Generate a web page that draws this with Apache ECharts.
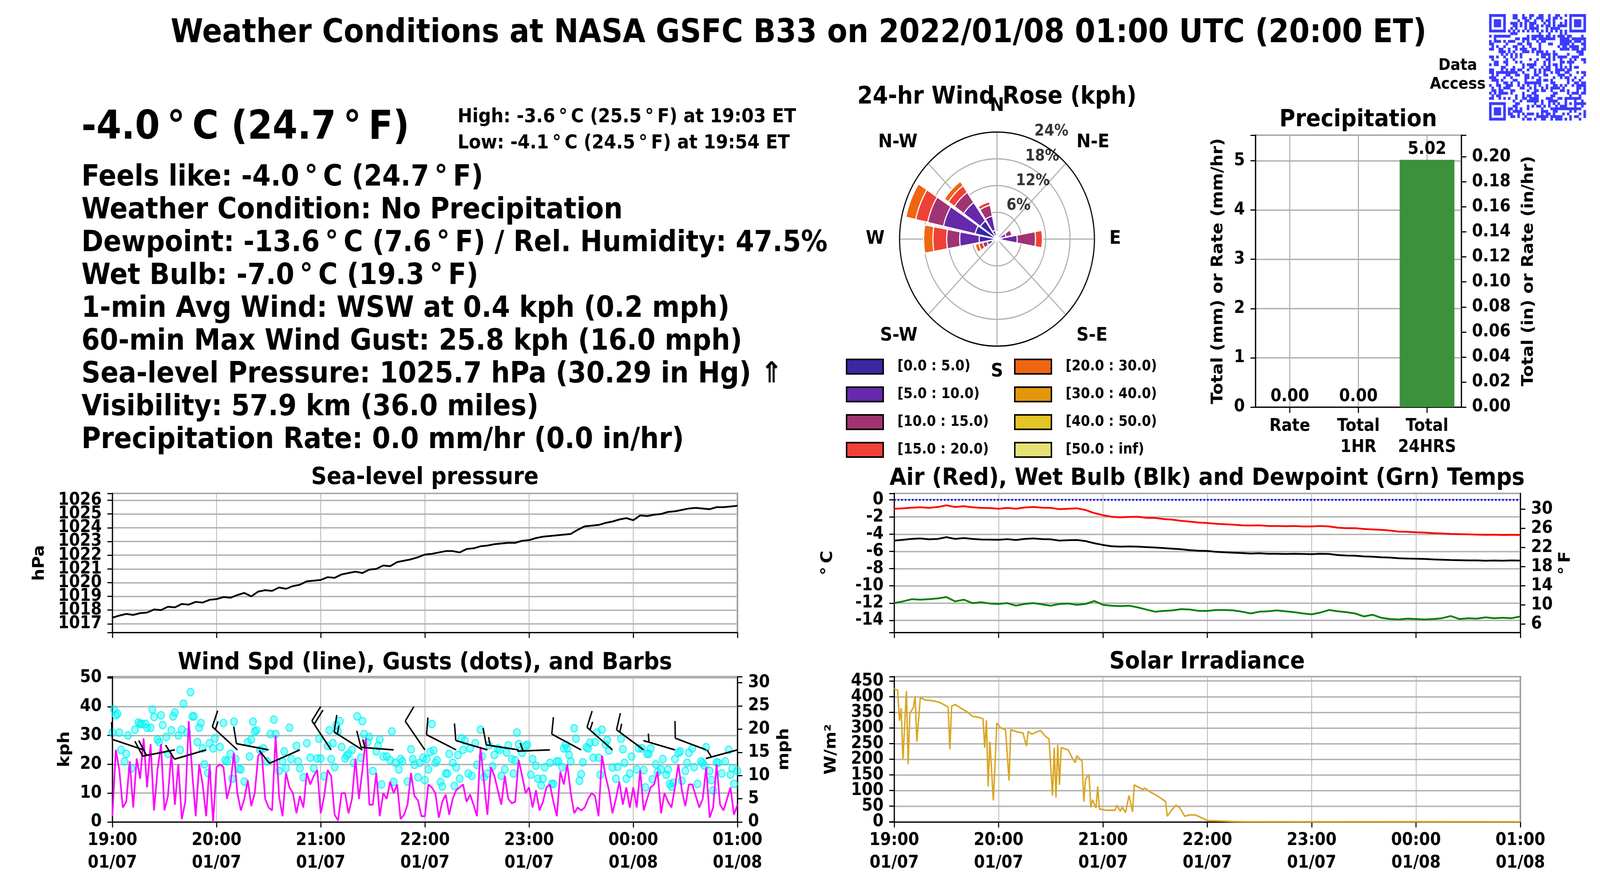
<!DOCTYPE html>
<html lang="en">
<head>
<meta charset="UTF-8"/>
<title>Weather Conditions at NASA GSFC B33</title>
<script src="https://cdn.jsdelivr.net/npm/echarts@6/dist/echarts.min.js"></script>
<style>
  html, body { margin: 0; padding: 0; background: #fff; overflow: hidden; }
  #wrap { position: relative; overflow: hidden; width: 4500px; height: 2250px; }
  #main { position: absolute; left: 0; top: 0; width: 4500px; height: 2250px; transform-origin: 0 0; }
</style>
</head>
<body>
<div id="wrap"><div id="main"></div></div>
<script type="text/javascript">
// ---- tick labels / categories ----
var hourTicks = ['19:00\n01/07', '20:00\n01/07', '21:00\n01/07', '22:00\n01/07', '23:00\n01/07', '00:00\n01/08', '01:00\n01/08'];
var compassLabels = ['N', 'N-E', 'E', 'S-E', 'S', 'S-W', 'W', 'N-W', ''];
var roseDirs = ['N', 'NNE', 'NE', 'ENE', 'E', 'ESE', 'SE', 'SSE', 'S', 'SSW', 'SW', 'WSW', 'W', 'WNW', 'NW', 'NNW'];
var roseBins = ['[0.0 : 5.0)', '[5.0 : 10.0)', '[10.0 : 15.0)', '[15.0 : 20.0)', '[20.0 : 30.0)', '[30.0 : 40.0)', '[40.0 : 50.0)', '[50.0 : inf)'];
var roseRings = [6, 12, 18, 24];
var precipCats = ['Rate', 'Total\n1HR', 'Total\n24HRS'];

// ---- text panel ----
var infoTemp = '-4.0\u2009°\u2009C (24.7\u2009°\u2009F)';
var infoHigh = 'High: -3.6\u2009°\u2009C (25.5\u2009°\u2009F) at 19:03 ET';
var infoLow = 'Low: -4.1\u2009°\u2009C (24.5\u2009°\u2009F) at 19:54 ET';
var infoLines = [
    'Feels like: -4.0\u2009°\u2009C (24.7\u2009°\u2009F)',
    'Weather Condition: No Precipitation',
    'Dewpoint: -13.6\u2009°\u2009C (7.6\u2009°\u2009F) / Rel. Humidity: 47.5%',
    'Wet Bulb: -7.0\u2009°\u2009C (19.3\u2009°\u2009F)',
    '1-min Avg Wind: WSW at 0.4 kph (0.2 mph)',
    '60-min Max Wind Gust: 25.8 kph (16.0 mph)',
    'Sea-level Pressure: 1025.7 hPa (30.29 in Hg) \u21D1',
    'Visibility: 57.9 km (36.0 miles)',
    'Precipitation Rate: 0.0 mm/hr (0.0 in/hr)'
];

// ---- sea-level pressure (hPa), every 4 min from 19:00 ----
var presStep = 4;
var pressure = [1017.45, 1017.6, 1017.72, 1017.65, 1017.78, 1017.82, 1018.05, 1018.0, 1018.25, 1018.2,
    1018.45, 1018.4, 1018.6, 1018.55, 1018.75, 1018.8, 1018.95, 1018.9, 1019.1, 1019.25,
    1019.0, 1019.35, 1019.45, 1019.4, 1019.65, 1019.55, 1019.75, 1019.85, 1020.1, 1020.15,
    1020.2, 1020.4, 1020.35, 1020.6, 1020.7, 1020.8, 1020.7, 1020.95, 1021.0, 1021.25,
    1021.2, 1021.5, 1021.6, 1021.7, 1021.85, 1022.05, 1022.1, 1022.2, 1022.3, 1022.3,
    1022.2, 1022.45, 1022.5, 1022.65, 1022.7, 1022.8, 1022.85, 1022.9, 1022.9, 1023.05,
    1023.1, 1023.25, 1023.35, 1023.4, 1023.45, 1023.5, 1023.55, 1023.85, 1024.1, 1024.15,
    1024.2, 1024.35, 1024.45, 1024.6, 1024.7, 1024.55, 1024.9, 1024.85, 1024.95, 1025.0,
    1025.15, 1025.2, 1025.3, 1025.4, 1025.45, 1025.4, 1025.35, 1025.5, 1025.5, 1025.55, 1025.6];

// ---- wind speed (kph), every 2 min ----
var windStep = 2;
var windSpd = [2, 25, 18, 5, 7, 21, 5, 22, 15, 29, 12, 27, 4, 18, 27, 4, 9, 24, 6, 20, 1, 7, 35, 17, 2, 20, 13, 2, 20, 0,
    19, 20, 19, 8, 13, 24, 10, 4, 8, 14.5, 5.5, 10, 23, 24, 8, 5, 4, 30, 9, 2, 17, 12, 10, 3, 9, 5, 17, 13, 16, 18,
    3, 9, 18, 16, 2.5, 0.5, 10, 10, 3, 8, 22, 8, 18, 29, 6, 6, 17, 2, 10, 8, 14, 10, 13, 1, 2.5, 6, 17, 9, 7.5, 2,
    2, 13, 12, 10, 1.5, 7, 9.5, 2.5, 8, 11, 12, 13, 7, 9.5, 6, 2, 26, 14, 2.5, 19, 16, 11, 6, 16, 8, 6.5, 7, 21.5, 16, 10,
    12, 5, 11, 4, 7, 12, 13, 7, 2, 17.5, 13, 20, 10, 3, 5, 4, 5, 8, 10, 9, 2, 23, 16, 11, 3, 8, 14, 6, 12, 5,
    12, 5, 18, 4, 8, 12, 13, 17.5, 3, 10, 7, 5, 12, 20, 11, 5.5, 13, 13, 9, 5, 8, 19, 1.5, 5, 20, 6, 4, 8, 12, 2.5, 6];

// ---- gusts (minute after 19:00, kph) ----
var gustMin = [0, 1, 2, 3, 4, 5, 7, 8, 9, 11, 13, 15, 16, 17, 19, 20, 22, 23, 24, 26, 27, 28, 29, 31, 32, 34, 35, 36, 38, 39,
    40, 41, 43, 45, 46, 47, 49, 50, 51, 52, 53, 55, 56, 58, 59,
    62, 64, 65, 66, 68, 69, 70, 71, 73, 74, 76, 78, 79, 80, 81, 82, 83, 85, 87, 89, 91, 93, 94, 96, 98, 99, 100,
    102, 103, 106, 107, 108, 110, 112, 114, 116, 118, 119, 120,
    122, 124, 125, 126, 127, 128, 129, 130, 131, 132, 134, 135, 136, 138, 139, 141, 143, 144, 145, 147, 148, 150,
    152, 153, 154, 155, 156, 158, 160, 161, 162, 163, 165, 166, 167, 170, 172, 173, 174, 176, 177, 179, 180,
    181, 182, 183, 184, 185, 186, 187, 189, 190, 192, 193, 194, 196, 197, 198, 199, 200, 201, 202, 203, 205, 206,
    207, 209, 210, 212, 213, 214, 216, 217, 219, 220, 222, 223, 224, 226, 227, 228, 230, 231, 232, 233, 234, 236, 238, 239,
    241, 242, 244, 245, 247, 248, 249, 252, 253, 254, 256, 257, 259, 260, 261, 262, 263, 264, 266, 267, 269, 270,
    271, 273, 274, 275, 277, 278, 279, 280, 281, 282, 284, 285, 286, 288, 290, 291, 293, 294, 295, 296, 298, 299,
    302, 303, 305, 306, 307, 308, 309, 310, 311, 313, 314, 316, 317, 319, 320, 321, 322, 323, 324, 326, 327, 328,
    330, 331, 332, 334, 335, 337, 339, 340, 341, 342, 344, 345, 346, 348, 349, 351, 353, 355, 356, 357, 358, 360];
var gustKph = [31, 39, 37, 37.5, 31, 25, 21, 23.6, 30, 18.6, 32, 34.5, 34, 34, 34, 32.7, 32.7, 39, 36.4, 28.6, 27.7, 37, 33.6, 29.5, 23.6, 31.8, 36.6, 38, 30, 25,
    32, 41, 31, 45, 36.6, 36.6, 27.7, 32.7, 34.3, 25.5, 20, 17, 27.3, 25.5, 29,
    26, 34.3, 21.4, 21, 23.6, 15, 34.8, 21.8, 18.4, 18.2, 14, 27.7, 22.7, 28.6, 34.8, 31.4, 31.8, 25, 25.5, 21, 30.5, 35.5, 30.5, 17.7, 21, 24.5, 18.6,
    32.7, 21.8, 26.4, 21, 18.6, 15.5, 27.3, 22.3, 18.6, 22, 28.9, 22,
    15.9, 26.4, 31.8, 21.8, 27.3, 19, 33.6, 31.4, 35, 26, 22, 23, 23.6, 25, 20.5, 36.6, 22.3, 35, 30.5, 27.7, 29.5, 17.7,
    24.5, 26.4, 28.6, 13, 22.7, 22.7, 21.4, 31.4, 13.9, 20.5, 18.2, 21.8, 21, 14, 25.2, 21.8, 19.8, 15.5, 20.5, 22.3, 14.5,
    21.8, 18.2, 24.3, 34, 24.8, 20.5, 21.4, 13.9, 12.3, 16.8, 16.8, 23.6, 20.5, 12.5, 18.9, 23.2, 15, 29, 25, 28.2, 16.8, 25.5,
    16, 27.3, 19.8, 32, 22.7, 15.5, 16.8, 26.6, 19.3, 23.2, 25.5, 25, 16, 18.2, 24.1, 26.6, 21.8, 16.8, 21.4, 31, 27, 24, 26.4, 26.8,
    16.4, 21.8, 19.5, 15, 12.7, 15, 19, 20.5, 13.2, 13.2, 21, 21, 19, 25.5, 26.8, 25.5, 23.2, 21, 32.5, 28.9, 14.3, 16.6,
    20.7, 25.9, 25.5, 27.5, 22.3, 27.7, 31, 22.3, 16.4, 32, 26.8, 28.4, 24.8, 18.9, 15, 19.1, 28.9, 25.2, 20.5, 15, 16.8, 22.7,
    18.2, 25.5, 25.5, 18, 12, 23.6, 23.6, 25.5, 14.8, 20, 17.3, 18.2, 21.8, 16.4, 18.2, 13.2, 12.3, 13.6, 21.8, 24, 24.5, 14.3,
    17.7, 20.5, 24, 25.5, 19, 13.2, 21, 20.5, 19.5, 25.9, 17.7, 14.5, 10.9, 20.7, 20.5, 16.8, 21, 25, 16.4, 18.6, 13.2, 17.7];

// ---- wind barbs (minute, direction from [deg], speed [kph]) ----
var barbMin = [18, 36, 54, 72, 90, 108, 126, 144, 162, 180, 198, 216, 234, 252, 270, 288, 306, 324, 342, 360];
var barbDir = [287, 260, 255, 310, 280, 248, 324, 300, 274, 323, 295, 285, 278, 268, 296, 309, 304, 285, 289, 256];
var barbSpd = [10, 20, 10, 15, 10, 10, 20, 15, 15, 10, 10, 10, 15, 5, 10, 15, 15, 5, 10, 5];
var barbLevel = 25;

// ---- temperatures (deg C), every 5 min ----
var tempStep = 5;
var airTemp = [-1.05, -1.0, -0.92, -0.88, -0.95, -0.85, -0.65, -0.85, -0.75, -0.88, -0.95, -0.97, -1.05, -0.95, -1.05, -0.9, -0.85, -0.92, -0.95, -1.1,
    -1.05, -1.0, -1.2, -1.55, -1.8, -1.98, -2.05, -2.0, -1.98, -2.1, -2.12, -2.25, -2.32, -2.45, -2.55, -2.65, -2.7, -2.8, -2.85, -2.9,
    -2.98, -3.0, -2.98, -3.05, -3.05, -3.08, -3.05, -3.1, -3.1, -3.05, -3.1, -3.25, -3.3, -3.3, -3.4, -3.45, -3.5, -3.58, -3.7, -3.72,
    -3.78, -3.82, -3.88, -3.92, -3.97, -4.0, -4.02, -4.05, -4.08, -4.07, -4.1, -4.08, -4.1];
var wetBulb = [-4.75, -4.65, -4.55, -4.5, -4.6, -4.55, -4.35, -4.55, -4.45, -4.55, -4.62, -4.63, -4.65, -4.58, -4.68, -4.55, -4.5, -4.57, -4.6, -4.75,
    -4.7, -4.68, -4.8, -5.05, -5.25, -5.4, -5.45, -5.42, -5.45, -5.5, -5.55, -5.62, -5.68, -5.75, -5.85, -5.92, -5.95, -6.05, -6.1, -6.15,
    -6.2, -6.25, -6.22, -6.27, -6.28, -6.3, -6.28, -6.3, -6.32, -6.27, -6.3, -6.42, -6.48, -6.5, -6.58, -6.62, -6.68, -6.72, -6.8, -6.83,
    -6.85, -6.88, -6.93, -6.97, -7.0, -7.02, -7.04, -7.05, -7.08, -7.06, -7.08, -7.05, -7.07];
var dewPoint = [-12.0, -11.8, -11.55, -11.6, -11.55, -11.45, -11.3, -11.8, -11.6, -12.0, -11.9, -12.05, -12.1, -12.0, -12.3, -12.1, -12.0, -12.15, -12.3, -12.1,
    -12.05, -12.2, -12.1, -11.75, -12.2, -12.3, -12.35, -12.3, -12.5, -12.75, -13.0, -12.9, -12.85, -12.7, -12.75, -12.9, -12.9, -12.8, -12.8, -12.85,
    -13.0, -13.2, -13.0, -12.95, -12.85, -12.95, -13.05, -13.2, -13.3, -13.1, -12.8, -12.95, -13.05, -13.2, -13.55, -13.35, -13.7, -13.85, -13.9, -13.8,
    -13.85, -13.9, -13.85, -13.75, -13.5, -13.85, -13.75, -13.8, -13.65, -13.75, -13.7, -13.75, -13.55];

// ---- solar irradiance (minute after 19:00, W/m2) ----
var solarMin = [0, 2, 3, 4, 5, 7, 8, 9, 11, 12, 13, 15, 18, 22, 26, 30, 31, 32, 33, 35, 39, 42, 45, 48, 51, 52, 53, 54, 55, 57,
    59, 61, 64, 66, 67, 71, 74, 76, 77, 79, 84, 87, 89, 91, 92, 93, 94, 95, 96, 100, 102, 104, 105, 108, 109, 110, 112, 113, 114, 116,
    117, 118, 122, 127, 128, 130, 131, 133, 135, 137, 138, 143, 144, 147, 151, 156, 157, 160, 162, 164, 167, 170, 173, 176, 180, 186, 194, 200, 240, 300, 360];
var solarVal = [425, 420, 323, 363, 199, 418, 184, 346, 366, 401, 256, 397, 389, 387, 382, 370, 366, 232, 370, 375, 361, 351, 337, 335, 330, 237, 325, 113, 256, 68,
    316, 301, 294, 132, 294, 287, 284, 242, 289, 280, 292, 273, 265, 84, 237, 77, 246, 118, 237, 230, 208, 189, 211, 194, 65, 137, 151, 46, 70, 44,
    113, 41, 37, 37, 53, 34, 46, 30, 84, 32, 118, 103, 108, 96, 84, 65, 18, 41, 53, 46, 18, 22, 22, 15, 4, 3, 1, 0.5, 0, 0.5, 0];

// ---- wind rose frequency (%) per speed bin, by direction ----
var roseFreq = [
    [0.8, 0.3, 0.3, 0.8, 1.2, 0.5, 0.2, 0.2, 0.2, 0.3, 0.3, 1.2, 4.4, 5.5, 5.0, 2.0],
    [0.5, 0.2, 0.2, 1.5, 3.8, 0.5, 0, 0, 0, 0.2, 0.2, 1.3, 4.8, 8.0, 5.0, 3.3],
    [0.3, 0, 0, 1.5, 4.5, 0, 0, 0, 0, 0, 0, 1.1, 3.2, 4.0, 2.8, 2.5],
    [0, 0, 0, 0, 1.7, 0, 0, 0, 0, 0, 0, 1.0, 3.4, 3.0, 1.8, 0.8],
    [0, 0, 0, 0, 0, 0, 0, 0, 0, 0, 0, 0.9, 2.3, 2.5, 1.2, 0],
    [0, 0, 0, 0, 0, 0, 0, 0, 0, 0, 0, 0, 0, 0, 0, 0],
    [0, 0, 0, 0, 0, 0, 0, 0, 0, 0, 0, 0, 0, 0, 0, 0],
    [0, 0, 0, 0, 0, 0, 0, 0, 0, 0, 0, 0, 0, 0, 0, 0]
];
var roseColors = ['#3c26a3', '#6629a9', '#a03472', '#ef4137', '#f06511', '#e4960b', '#e4c427', '#e4e274'];

// ---- precipitation (mm) ----
var precipMm = [0.00, 0.00, 5.02];

var FONT = 'DejaVu Sans';

// the browser window may be narrower than 4500 px: stretch the 4500x2250 layout over it
var wrapEl = document.getElementById('wrap');
var mainEl = document.getElementById('main');
var vw = window.innerWidth || 4500, vh = window.innerHeight || 2250;
var sx = vw / 4500, sy = vh / 2250;
if (Math.abs(sx - 1) > 0.002 || Math.abs(sy - 1) > 0.002) {
    mainEl.style.transform = 'scale(' + sx + ',' + sy + ')';
    wrapEl.style.width = vw + 'px';
    wrapEl.style.height = vh + 'px';
}
var myChart = echarts.init(mainEl);

function timeAxis(gridIndex, showLabels) {
    return {
        type: 'value', gridIndex: gridIndex, min: 0, max: 360, interval: 60,
        axisLine: {show: true, onZero: false, lineStyle: {color: '#000', width: 3}},
        axisTick: {show: true, length: 14, lineStyle: {color: '#000', width: 3}},
        splitLine: {show: true, lineStyle: {color: '#b0b0b0', width: 2}},
        axisLabel: {
            show: showLabels, margin: 19, lineHeight: 58, fontSize: 44, fontWeight: 'bold', color: '#000', fontFamily: FONT,
            showMinLabel: true, showMaxLabel: true,
            formatter: function (v) { return hourTicks[Math.round(v / 60)]; }
        }
    };
}

function valueAxis(gridIndex, pos, o) {
    var ax = {
        type: 'value', gridIndex: gridIndex, position: pos, min: o.min, max: o.max,
        axisLine: {show: true, onZero: false, lineStyle: {color: '#000', width: 3}},
        axisTick: {show: true, length: 14, lineStyle: {color: '#000', width: 3}},
        splitLine: {show: pos === 'left', lineStyle: {color: '#b0b0b0', width: 3.5}},
        axisLabel: {margin: 30, fontSize: 44, lineHeight: 34, fontWeight: 'bold', color: '#000', fontFamily: FONT,
            showMinLabel: true, showMaxLabel: true, hideOverlap: false, formatter: o.fmt},
        name: o.name, nameLocation: 'middle', nameRotate: 90, nameGap: o.gap,
        nameTextStyle: {fontSize: 44, fontWeight: 'bold', color: '#000', fontFamily: FONT}
    };
    if (o.interval != null) ax.interval = o.interval;
    if (o.step != null) { ax.minInterval = o.step; ax.maxInterval = o.step; }
    if (o.custom) {
        ax.axisLabel.customValues = o.custom;
        ax.axisTick.customValues = o.custom;
    }
    return ax;
}

function onStep(step, digits) {
    return function (v) {
        var k = v / step;
        if (Math.abs(k - Math.round(k)) > 1e-6) return '';
        return digits ? v.toFixed(digits) : String(Math.round(v));
    };
}

function renderBarb(params, api) {
    var base = api.coord([api.value(0), api.value(1)]);
    var a = api.value(2) * Math.PI / 180;
    var spd = api.value(3);
    var L = 92, full = 44, gap = 11;
    var ux = Math.sin(a), uy = -Math.cos(a);
    var px = -uy, py = ux;
    var bx = 0.94 * px + 0.34 * ux, by = 0.94 * py + 0.34 * uy;
    var tip = [base[0] + L * ux, base[1] + L * uy];
    var kids = [{type: 'line', shape: {x1: base[0], y1: base[1], x2: tip[0], y2: tip[1]}, style: {stroke: '#000', lineWidth: 4}}];
    var nFull = Math.floor(spd / 10), half = (spd % 10) >= 5;
    var d = 0;
    for (var i = 0; i < nFull; i++) {
        var p0 = [tip[0] - d * ux, tip[1] - d * uy];
        kids.push({type: 'line', shape: {x1: p0[0], y1: p0[1], x2: p0[0] + full * bx, y2: p0[1] + full * by}, style: {stroke: '#000', lineWidth: 4}});
        d += gap;
    }
    if (half) {
        if (nFull === 0) d = gap * 1.5;
        var p1 = [tip[0] - d * ux, tip[1] - d * uy];
        kids.push({type: 'line', shape: {x1: p1[0], y1: p1[1], x2: p1[0] + full * 0.5 * bx, y2: p1[1] + full * 0.5 * by}, style: {stroke: '#000', lineWidth: 4}});
    }
    return {type: 'group', children: kids};
}

// QR-like badge (decorative)
function qrOn(r, c) {
    var n = 41;
    var corners = [[0, 0], [0, n - 7], [n - 7, 0]];
    for (var k = 0; k < 3; k++) {
        var dr = r - corners[k][0], dc = c - corners[k][1];
        if (dr >= -1 && dc >= -1 && dr <= 7 && dc <= 7) {
            if (dr < 0 || dc < 0 || dr > 6 || dc > 6) return false;
            return Math.max(Math.abs(dr - 3), Math.abs(dc - 3)) !== 2;
        }
    }
    if (r === 6) return c % 2 === 0;
    if (c === 6) return r % 2 === 0;
    var m = Math.max(Math.abs(r - 34), Math.abs(c - 34));
    if (m <= 2) return m !== 1;
    return (((r * 73 + c * 151) ^ (r * c * 7)) % 11) < 5;
}
var qrKids = [];
var qrCell = 272 / 41;
for (var qr = 0; qr < 41; qr++) {
    for (var qc = 0; qc < 41; qc++) {
        if (qrOn(qr, qc)) {
            qrKids.push({type: 'rect', shape: {x: 4188 + qc * qrCell, y: 36 + qr * qrCell, width: qrCell + 0.6, height: qrCell + 0.6}, style: {fill: '#3b3bff'}});
        }
    }
}

function txt(s, x, y, size, align) {
    return {type: 'text', z: 50, style: {text: s, x: x, y: y, font: 'bold ' + size + 'px "' + FONT + '"', fill: '#000', textAlign: align || 'left', textVerticalAlign: 'middle'}};
}

var graphics = [
    txt('Weather Conditions at NASA GSFC B33 on 2022/01/08 01:00 UTC (20:00 ET)', 2246, 86, 83, 'center'),
    txt(infoTemp, 229, 329, 101),
    txt(infoHigh, 1287, 300, 49.5),
    txt(infoLow, 1287, 367, 49.5),
    txt('Data', 4100, 168, 41, 'center'),
    txt('Access', 4100, 216, 41, 'center'),
    txt('Sea-level pressure', 1195, 1223, 61, 'center'),
    txt('Wind Spd (line), Gusts (dots), and Barbs', 1195, 1697, 61, 'center'),
    txt('Air (Red), Wet Bulb (Blk) and Dewpoint (Grn) Temps', 3395, 1225, 61, 'center'),
    txt('Solar Irradiance', 3395, 1695, 61, 'center'),
    txt('24-hr Wind Rose (kph)', 2804, 249, 62, 'center'),
    txt('Precipitation', 3820, 307, 61, 'center'),
    {type: 'group', children: qrKids}
];
infoLines.forEach(function (s, i) {
    graphics.push(txt(s, 229, 456 + 84 * i, 74.5));
});

var series = [
    {
        name: 'Sea-level pressure', type: 'line', xAxisIndex: 0, yAxisIndex: 0, showSymbol: false,
        data: pressure.map(function (v, i) { return [i * presStep, v]; }),
        lineStyle: {color: '#000', width: 4.5}
    },
    {
        name: 'Gusts', type: 'scatter', xAxisIndex: 1, yAxisIndex: 1, symbolSize: 19,
        data: gustMin.map(function (m, i) { return [m, gustKph[i]]; }),
        itemStyle: {color: 'rgba(0,255,255,0.5)', borderColor: 'rgba(0,238,238,0.9)', borderWidth: 3}
    },
    {
        name: 'Wind speed', type: 'line', xAxisIndex: 1, yAxisIndex: 1, showSymbol: false,
        data: windSpd.map(function (v, i) { return [i * windStep, v]; }),
        lineStyle: {color: '#ff00ff', width: 4.5}
    },
    {
        name: 'Barbs', type: 'custom', xAxisIndex: 1, yAxisIndex: 1, renderItem: renderBarb, z: 10,
        encode: {x: 0, y: 1},
        data: barbMin.map(function (m, i) { return [m, barbLevel, barbDir[i], barbSpd[i]]; })
    },
    {
        name: 'Air', type: 'line', xAxisIndex: 2, yAxisIndex: 3, showSymbol: false,
        data: airTemp.map(function (v, i) { return [i * tempStep, v]; }),
        lineStyle: {color: '#ff0000', width: 4.5},
        markLine: {
            silent: true, symbol: 'none', label: {show: false},
            lineStyle: {color: '#0000ff', type: [4, 6], width: 5},
            data: [{yAxis: 0}]
        }
    },
    {
        name: 'Wet bulb', type: 'line', xAxisIndex: 2, yAxisIndex: 3, showSymbol: false,
        data: wetBulb.map(function (v, i) { return [i * tempStep, v]; }),
        lineStyle: {color: '#000', width: 4.5}
    },
    {
        name: 'Dewpoint', type: 'line', xAxisIndex: 2, yAxisIndex: 3, showSymbol: false,
        data: dewPoint.map(function (v, i) { return [i * tempStep, v]; }),
        lineStyle: {color: '#008000', width: 4.5}
    },
    {
        name: 'Solar', type: 'line', xAxisIndex: 3, yAxisIndex: 5, showSymbol: false,
        data: solarMin.map(function (m, i) { return [m, solarVal[i]]; }),
        lineStyle: {color: '#daa520', width: 4}
    },
    {
        name: 'Precip', type: 'bar', xAxisIndex: 4, yAxisIndex: 6, barWidth: 154,
        data: precipMm.map(function (v, i) { return [i, v]; }),
        itemStyle: {color: '#3c923c'},
        label: {
            show: true, position: 'top', distance: 4, fontSize: 44, fontWeight: 'bold', color: '#000', fontFamily: FONT,
            formatter: function (p) { return p.value[1].toFixed(2); }
        }
    },
    {
        name: 'Rings', type: 'scatter', coordinateSystem: 'polar', polarIndex: 0, symbolSize: 1, silent: true, z: 6,
        itemStyle: {color: 'rgba(0,0,0,0)'},
        data: roseRings.map(function (r) { return [r, 22.5]; }),
        label: {
            show: true, position: 'right', distance: 0, offset: [0, -22], fontSize: 40, fontWeight: 'bold', color: '#000', fontFamily: FONT,
            formatter: function (p) { return p.value[0] + '%'; }
        }
    }
];
roseBins.forEach(function (name, b) {
    series.push({
        name: name, type: 'bar', coordinateSystem: 'polar', polarIndex: 1, stack: 'rose',
        barCategoryGap: '10%', data: roseFreq[b],
        itemStyle: {color: roseColors[b], borderColor: '#fff', borderWidth: 3}
    });
});

function roseLegend(items, left) {
    return {
        data: items, orient: 'vertical', left: left, top: 918, padding: 0,
        itemWidth: 103, itemHeight: 37, itemGap: 30, icon: 'rect', selectedMode: false,
        itemStyle: {borderColor: '#000', borderWidth: 4},
        textStyle: {fontSize: 37, fontWeight: 'bold', color: '#000', fontFamily: FONT, lineHeight: 37, padding: [0, 0, 0, 35]}
    };
}

var option = {
    animation: false,
    backgroundColor: '#fff',
    textStyle: {fontFamily: FONT, fontWeight: 'bold'},
    graphic: graphics,
    legend: [roseLegend(roseBins.slice(0, 4), 2379), roseLegend(roseBins.slice(4), 2852)],
    grid: [
        {left: 316, top: 1263, width: 1758, height: 356, show: true, borderColor: '#000', borderWidth: 3, backgroundColor: 'transparent'},
        {left: 316, top: 1732, width: 1758, height: 372, show: true, borderColor: '#000', borderWidth: 3, backgroundColor: 'transparent'},
        {left: 2515, top: 1263, width: 1761, height: 356, show: true, borderColor: '#000', borderWidth: 3, backgroundColor: 'transparent'},
        {left: 2515, top: 1732, width: 1761, height: 372, show: true, borderColor: '#000', borderWidth: 3, backgroundColor: 'transparent'},
        {left: 3531, top: 346, width: 579, height: 696, show: true, borderColor: '#000', borderWidth: 3, backgroundColor: 'transparent'}
    ],
    xAxis: [
        timeAxis(0, false),
        timeAxis(1, true),
        timeAxis(2, false),
        timeAxis(3, true),
        {
            type: 'value', gridIndex: 4, min: -0.5, max: 2.5, minInterval: 1, maxInterval: 1,
            axisLine: {show: true, onZero: false, lineStyle: {color: '#000', width: 3}},
            axisTick: {show: true, length: 15, customValues: [0, 1, 2], lineStyle: {color: '#000', width: 3}},
            splitLine: {show: true, lineStyle: {color: '#b0b0b0', width: 3}},
            axisLabel: {
                margin: 23, lineHeight: 54, fontSize: 44, fontWeight: 'bold', color: '#000', fontFamily: FONT,
                formatter: function (v) { return Math.abs(v - Math.round(v)) < 1e-6 ? (precipCats[Math.round(v)] || '') : ''; }
            }
        }
    ],
    yAxis: [
        valueAxis(0, 'left', {min: 1016.37, max: 1026.5, step: 1, fmt: onStep(1), name: 'hPa', gap: 182}),
        valueAxis(1, 'left', {min: 0, max: 50.4, interval: 10, fmt: onStep(10), name: 'kph', gap: 111}),
        valueAxis(1, 'right', {min: 0, max: 50.4 / 1.609344, interval: 5, fmt: onStep(5), name: 'mph', gap: 110}),
        valueAxis(2, 'left', {min: -15.41, max: 0.73, step: 2, fmt: onStep(2), name: '°\u2009C', gap: 164}),
        valueAxis(2, 'right', {min: -15.41 * 1.8 + 32, max: 0.73 * 1.8 + 32, custom: [6, 10, 14, 18, 22, 26, 30], fmt: onStep(2), name: '°\u2009F', gap: 106}),
        valueAxis(3, 'left', {min: -0.5, max: 464, step: 50, fmt: onStep(50), name: 'W/m²', gap: 154}),
        valueAxis(4, 'left', {min: 0, max: 5.52, interval: 1, fmt: onStep(1), name: 'Total (mm) or Rate (mm/hr)', gap: 82}),
        valueAxis(4, 'right', {min: 0, max: 5.52 / 25.4, interval: 0.02, fmt: onStep(0.02, 2), name: 'Total (in) or Rate (in/hr)', gap: 168})
    ],
    polar: [
        {center: [2804, 612], radius: 274},
        {center: [2804, 612], radius: 274}
    ],
    angleAxis: [
        {
            polarIndex: 0, type: 'value', min: 0, max: 360, interval: 45, startAngle: 90, clockwise: true,
            axisLine: {show: true, lineStyle: {color: '#000', width: 3}},
            axisTick: {show: false},
            splitLine: {show: true, lineStyle: {color: '#b0b0b0', width: 3}},
            axisLabel: {
                margin: 42, fontSize: 48, fontWeight: 'bold', color: '#000', fontFamily: FONT,
                formatter: function (v) { return compassLabels[Math.round(v / 45)]; }
            }
        },
        {polarIndex: 1, type: 'category', data: roseDirs, startAngle: 101.25, clockwise: true, show: false}
    ],
    radiusAxis: [
        {
            polarIndex: 0, type: 'value', min: 0, max: 24, interval: 6,
            axisLine: {show: false}, axisTick: {show: false}, axisLabel: {show: false},
            splitLine: {show: true, lineStyle: {color: '#b0b0b0', width: 3}}
        },
        {polarIndex: 1, type: 'value', min: 0, max: 24, show: false}
    ],
    series: series
};

myChart.setOption(option);
</script>
</body>
</html>
